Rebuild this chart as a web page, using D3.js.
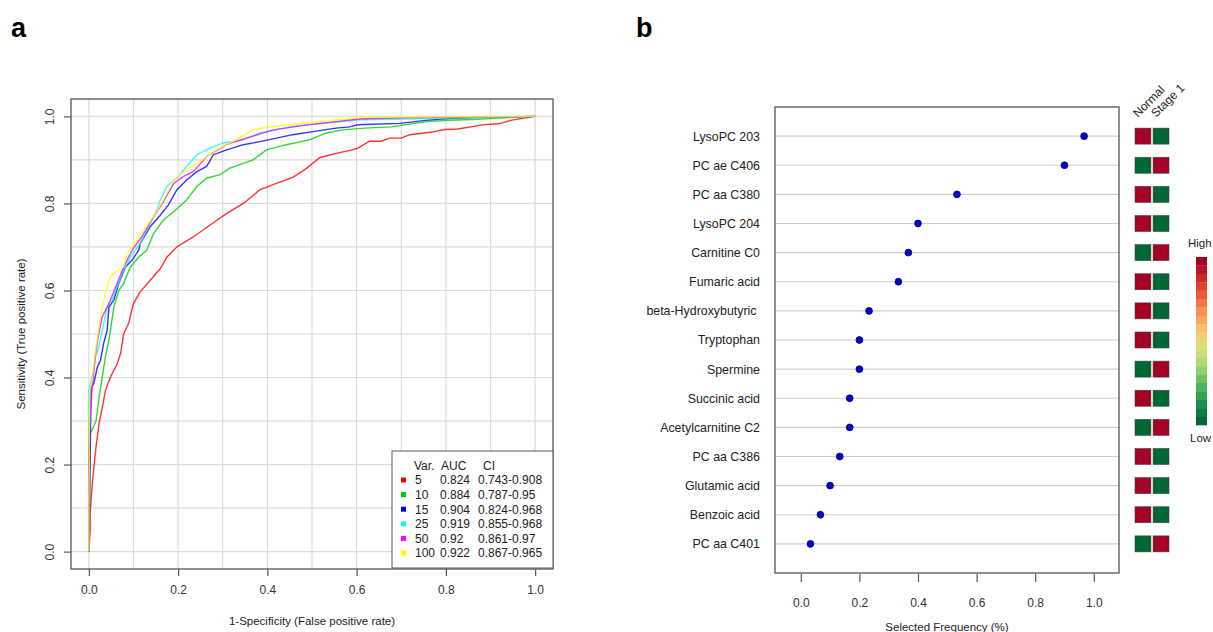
<!DOCTYPE html>
<html>
<head>
<meta charset="utf-8">
<script src="https://cdn.jsdelivr.net/npm/d3@7"></script>
<style>
  body { margin: 0; background: #fff; }
  svg text { font-family: "Liberation Sans", Arial, sans-serif; fill: #222; }
</style>
</head>
<body>
<div class="canvas"></div>
<script>
// ---- panel a data: ROC curves, [fpr, tpr]
const roc5 = [[0,0],[0.003,0.05],[0.003,0.09],[0.008,0.16],[0.012,0.2],[0.016,0.24],[0.023,0.295],[0.03,0.33],[0.037,0.37],[0.048,0.4],[0.055,0.415],[0.063,0.43],[0.071,0.455],[0.075,0.48],[0.078,0.5],[0.089,0.524],[0.1,0.57],[0.115,0.597],[0.138,0.624],[0.16,0.65],[0.175,0.677],[0.197,0.7],[0.234,0.723],[0.271,0.75],[0.309,0.777],[0.346,0.8],[0.383,0.831],[0.42,0.846],[0.457,0.86],[0.487,0.88],[0.517,0.905],[0.554,0.915],[0.585,0.922],[0.603,0.927],[0.629,0.943],[0.655,0.943],[0.674,0.95],[0.7,0.95],[0.719,0.958],[0.752,0.962],[0.774,0.965],[0.796,0.97],[0.826,0.971],[0.863,0.977],[0.885,0.981],[0.919,0.983],[0.945,0.991],[0.975,0.996],[1,1]]
const roc10 = [[0,0],[0.002,0.1],[0.002,0.27],[0.007,0.279],[0.016,0.3],[0.023,0.355],[0.03,0.4],[0.037,0.447],[0.045,0.486],[0.05,0.52],[0.056,0.562],[0.067,0.6],[0.078,0.616],[0.093,0.654],[0.112,0.677],[0.13,0.693],[0.145,0.731],[0.167,0.762],[0.19,0.781],[0.219,0.808],[0.242,0.839],[0.264,0.858],[0.294,0.866],[0.316,0.881],[0.346,0.892],[0.368,0.9],[0.398,0.923],[0.442,0.935],[0.494,0.946],[0.532,0.962],[0.569,0.969],[0.618,0.973],[0.677,0.976],[0.729,0.984],[0.759,0.988],[0.804,0.991],[0.863,0.993],[0.915,0.996],[1,1]]
const roc15 = [[0,0],[0.002,0.155],[0.005,0.378],[0.011,0.386],[0.019,0.424],[0.026,0.439],[0.033,0.478],[0.041,0.508],[0.045,0.562],[0.056,0.578],[0.067,0.616],[0.082,0.654],[0.097,0.67],[0.112,0.693],[0.115,0.708],[0.138,0.747],[0.16,0.773],[0.178,0.796],[0.197,0.831],[0.219,0.854],[0.242,0.873],[0.264,0.885],[0.279,0.912],[0.309,0.923],[0.346,0.935],[0.383,0.942],[0.42,0.95],[0.457,0.958],[0.502,0.965],[0.554,0.973],[0.585,0.976],[0.603,0.981],[0.696,0.984],[0.755,0.991],[0.804,0.995],[0.878,0.998],[1,1]]
const roc25 = [[0,0],[0,0.2],[0,0.37],[0.007,0.4],[0.015,0.447],[0.022,0.47],[0.03,0.508],[0.041,0.562],[0.052,0.578],[0.063,0.608],[0.078,0.647],[0.093,0.677],[0.115,0.708],[0.13,0.739],[0.149,0.777],[0.16,0.808],[0.175,0.839],[0.197,0.858],[0.219,0.885],[0.242,0.912],[0.271,0.927],[0.301,0.939],[0.346,0.946],[0.383,0.962],[0.457,0.977],[0.532,0.985],[0.606,0.992],[0.655,0.993],[0.804,0.996],[1,1]]
const roc50 = [[0,0],[0,0.217],[0.002,0.293],[0.007,0.37],[0.015,0.455],[0.022,0.5],[0.03,0.539],[0.045,0.57],[0.06,0.608],[0.078,0.654],[0.097,0.693],[0.119,0.724],[0.145,0.77],[0.167,0.804],[0.19,0.846],[0.212,0.862],[0.234,0.873],[0.264,0.908],[0.309,0.935],[0.353,0.95],[0.413,0.969],[0.494,0.981],[0.606,0.994],[0.7,0.997],[1,1]]
const roc100 = [[0,0],[0,0.1],[0.002,0.37],[0.007,0.393],[0.015,0.462],[0.026,0.539],[0.037,0.593],[0.048,0.631],[0.06,0.643],[0.078,0.654],[0.085,0.685],[0.1,0.704],[0.123,0.739],[0.145,0.77],[0.167,0.808],[0.19,0.854],[0.219,0.877],[0.249,0.896],[0.286,0.923],[0.323,0.942],[0.368,0.969],[0.398,0.975],[0.494,0.985],[0.606,0.998],[1,1]]

const varCounts = ["5", "10", "15", "25", "50", "100"]
const aucValues = ["0.824", "0.884", "0.904", "0.919", "0.92", "0.922"]
const ciValues = ["0.743-0.908", "0.787-0.95", "0.824-0.968", "0.855-0.968", "0.861-0.97", "0.867-0.965"]
const curves = [roc5, roc10, roc15, roc25, roc50, roc100]
const curveColors = ["#ff0000", "#00cd00", "#0000ff", "#00ffff", "#ff00ff", "#ffff00"]
const rocTicks = [0, 0.2, 0.4, 0.6, 0.8, 1.0]

// ---- panel b data
const metabolites = ["LysoPC 203", "PC ae C406", "PC aa C380", "LysoPC 204", "Carnitine C0", "Fumaric acid",
    "beta-Hydroxybutyric ", "Tryptophan", "Spermine", "Succinic acid", "Acetylcarnitine C2", "PC aa C386",
    "Glutamic acid", "Benzoic acid", "PC aa C401"]
const frequency = [0.967, 0.9, 0.533, 0.4, 0.367, 0.333, 0.233, 0.2, 0.2, 0.167, 0.167, 0.133, 0.1, 0.067, 0.033]
// 1 = high, 0 = low
const normalLevel = [1, 0, 1, 1, 0, 1, 1, 1, 0, 1, 0, 1, 1, 1, 0]
const stage1Level = [0, 1, 0, 0, 1, 0, 0, 0, 1, 0, 1, 0, 0, 0, 1]
const groups = ["Normal", "Stage 1"]
const freqTicks = [0, 0.2, 0.4, 0.6, 0.8, 1.0]

const svg = d3.select(".canvas")
    .append("svg")
    .attr("width", 1213)
    .attr("height", 632)

// panel letters
svg.append("text").attr("x", 11).attr("y", 37).text("a")
    .style("font-size", "27px").style("font-weight", "bold").style("fill", "#000")
svg.append("text").attr("x", 636).attr("y", 37).text("b")
    .style("font-size", "27px").style("font-weight", "bold").style("fill", "#000")

// ================= panel a =================
const boxA = { left: 71, top: 99, right: 553, bottom: 569 }
const x = d3.scaleLinear().domain([-0.04, 1.04]).range([boxA.left, boxA.right])
const y = d3.scaleLinear().domain([-0.04, 1.04]).range([boxA.bottom, boxA.top])

const gridVals = d3.range(0, 11).map(i => i / 10)
const gridA = svg.append("g")
gridA.selectAll(".gv").data(gridVals).enter().append("line")
    .attr("x1", d => x(d)).attr("x2", d => x(d))
    .attr("y1", boxA.top).attr("y2", boxA.bottom)
    .attr("stroke", "#dcdcdc").attr("stroke-width", 1.2)
gridA.selectAll(".gh").data(gridVals).enter().append("line")
    .attr("y1", d => y(d)).attr("y2", d => y(d))
    .attr("x1", boxA.left).attr("x2", boxA.right)
    .attr("stroke", "#dcdcdc").attr("stroke-width", 1.2)

const line = d3.line().x(d => x(d[0])).y(d => y(d[1]))
svg.append("g").selectAll("path")
    .data(curves)
    .enter()
    .append("path")
    .attr("d", line)
    .attr("fill", "none")
    .attr("stroke", (d, i) => curveColors[i])
    .attr("stroke-opacity", 0.8)
    .attr("stroke-width", 1.4)

svg.append("rect")
    .attr("x", boxA.left).attr("y", boxA.top)
    .attr("width", boxA.right - boxA.left).attr("height", boxA.bottom - boxA.top)
    .attr("fill", "none").attr("stroke", "#555").attr("stroke-width", 1.3)

// axes
const xAxisA = svg.append("g").attr("transform", `translate(0, ${boxA.bottom})`)
    .call(d3.axisBottom(x).tickValues(rocTicks).tickFormat(d3.format(".1f")).tickSize(7).tickPadding(9))
const yAxisA = svg.append("g").attr("transform", `translate(${boxA.left}, 0)`)
    .call(d3.axisLeft(y).tickValues(rocTicks).tickFormat(d3.format(".1f")).tickSize(7).tickPadding(9))
;[xAxisA, yAxisA].forEach(g => {
    g.select(".domain").remove()
    g.selectAll("line").attr("stroke", "#555").attr("stroke-width", 1.2)
    g.selectAll("text").style("font-size", "12px").style("fill", "#333")
})
yAxisA.selectAll("text")
    .attr("x", null).attr("dy", null)
    .attr("text-anchor", "middle")
    .attr("transform", "translate(-17, 0) rotate(-90)")

svg.append("text")
    .attr("x", (boxA.left + boxA.right) / 2).attr("y", 625)
    .attr("text-anchor", "middle").style("font-size", "11.5px")
    .text("1-Specificity (False positive rate)")
svg.append("text")
    .attr("transform", `translate(25, ${(boxA.top + boxA.bottom) / 2}) rotate(-90)`)
    .attr("text-anchor", "middle").style("font-size", "11.5px")
    .text("Sensitivity (True positive rate)")

// legend
const legend = svg.append("g")
legend.append("rect")
    .attr("x", 392).attr("y", 451).attr("width", 161).attr("height", 117)
    .attr("fill", "#fff").attr("stroke", "#555").attr("stroke-width", 1)
const headY = 470
legend.append("text").attr("x", 414).attr("y", headY).text("Var.").style("font-size", "12px")
legend.append("text").attr("x", 441).attr("y", headY).text("AUC").style("font-size", "12px")
legend.append("text").attr("x", 483).attr("y", headY).text("CI").style("font-size", "12px")
const rowsL = legend.selectAll(".row").data(varCounts).enter().append("g")
    .attr("transform", (d, i) => `translate(0, ${480 + i * 14.6})`)
rowsL.append("rect").attr("x", 401).attr("y", -2.5).attr("width", 5).attr("height", 5)
    .attr("fill", (d, i) => curveColors[i])
rowsL.append("text").attr("x", 415).attr("y", 4.3).text(d => d).style("font-size", "12px")
rowsL.append("text").attr("x", 440).attr("y", 4.3).text((d, i) => aucValues[i]).style("font-size", "12px")
rowsL.append("text").attr("x", 478).attr("y", 4.3).text((d, i) => ciValues[i]).style("font-size", "12px")

// ================= panel b =================
const boxB = { left: 775, top: 107, right: 1119, bottom: 573 }
const xb = d3.scaleLinear().domain([-0.088, 1.086]).range([boxB.left, boxB.right])
const yb = d3.scalePoint().domain(metabolites).range([boxB.top, boxB.bottom]).padding(1)

svg.append("g").selectAll("line")
    .data(metabolites).enter().append("line")
    .attr("x1", boxB.left).attr("x2", boxB.right)
    .attr("y1", d => yb(d)).attr("y2", d => yb(d))
    .attr("stroke", "#cfcfcf").attr("stroke-width", 1.2)

svg.append("g").selectAll("text")
    .data(metabolites).enter().append("text")
    .attr("x", 760).attr("y", d => yb(d) + 4.4)
    .attr("text-anchor", "end")
    .style("font-size", "12.4px")
    .style("white-space", "pre")
    .text(d => d)

svg.append("g").selectAll("circle")
    .data(frequency).enter().append("circle")
    .attr("cx", d => xb(d))
    .attr("cy", (d, i) => yb(metabolites[i]))
    .attr("r", 3.4)
    .attr("fill", "#0000d0").attr("stroke", "#000060").attr("stroke-width", 0.8)

svg.append("rect")
    .attr("x", boxB.left).attr("y", boxB.top)
    .attr("width", boxB.right - boxB.left).attr("height", boxB.bottom - boxB.top)
    .attr("fill", "none").attr("stroke", "#555").attr("stroke-width", 1.3)

const xAxisB = svg.append("g").attr("transform", `translate(0, ${boxB.bottom + 1})`)
    .call(d3.axisBottom(xb).tickValues(freqTicks).tickFormat(d3.format(".1f")).tickSize(8).tickPadding(16))
xAxisB.select(".domain").remove()
xAxisB.selectAll("line").attr("stroke", "#555").attr("stroke-width", 1.2)
xAxisB.selectAll("text").style("font-size", "12px").style("fill", "#333")

svg.append("text")
    .attr("x", (boxB.left + boxB.right) / 2).attr("y", 631)
    .attr("text-anchor", "middle").style("font-size", "11.5px")
    .text("Selected Frequency (%)")

// high/low tiles
const levelColor = d3.scaleOrdinal().domain([0, 1]).range(["#006837", "#a50026"])
const tileX = d3.scaleBand().domain(groups).range([1135, 1169]).paddingInner(0.12)
const levels = [normalLevel, stage1Level]
levels.forEach((lv, gi) => {
    svg.append("g").selectAll("rect")
        .data(lv).enter().append("rect")
        .attr("x", tileX(groups[gi]))
        .attr("y", (d, i) => yb(metabolites[i]) - 8)
        .attr("width", tileX.bandwidth()).attr("height", 16)
        .attr("fill", d => levelColor(d))
        .attr("stroke", "#444").attr("stroke-width", 0.6)
})
svg.append("g").selectAll("text")
    .data(groups).enter().append("text")
    .attr("transform", d => `translate(${tileX(d) + 3}, 118) rotate(-45)`)
    .style("font-size", "12px")
    .text(d => d)

// colour key
const keySteps = 20
const keyColor = d3.interpolateRgbBasis(["#a50026", "#d73027", "#f46d43", "#fdae61", "#f0de7a", "#b9e27a", "#66bd63", "#1a9850", "#006837"])
const keyY = d3.scaleLinear().domain([0, keySteps]).range([257, 425])
svg.append("g").selectAll("rect")
    .data(d3.range(keySteps)).enter().append("rect")
    .attr("x", 1196).attr("width", 11)
    .attr("y", d => keyY(d)).attr("height", keyY(1) - keyY(0) + 0.3)
    .attr("fill", d => keyColor(d / (keySteps - 1)))
svg.append("text").attr("x", 1188).attr("y", 247).text("High").style("font-size", "11.5px")
svg.append("text").attr("x", 1190).attr("y", 442).text("Low").style("font-size", "11.5px")
</script>
</body>
</html>
